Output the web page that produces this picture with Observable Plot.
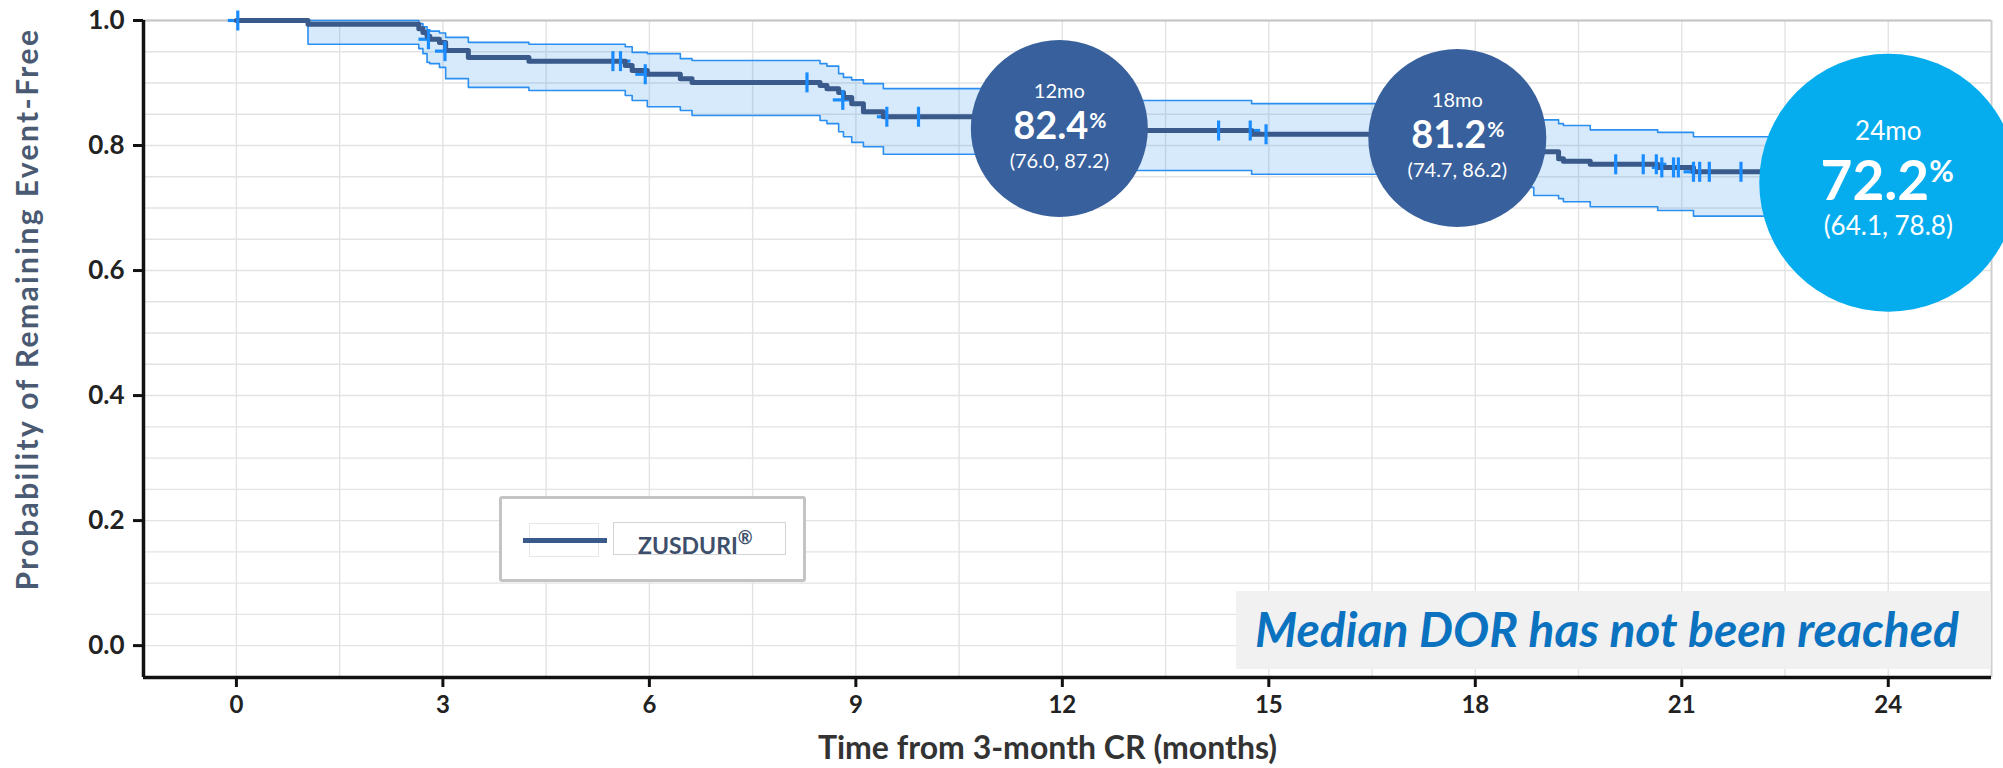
<!DOCTYPE html>
<html>
<head>
<meta charset="utf-8">
<script src="https://cdn.jsdelivr.net/npm/d3@7"></script>
<script src="https://cdn.jsdelivr.net/npm/@observablehq/plot@0.6"></script>
<style>
  html, body { margin: 0; padding: 0; background: #fff; }
  #chart { position: relative; width: 2003px; height: 768px; overflow: hidden; font-family: Lato, sans-serif; }
  #chart svg { position: absolute; left: 0; top: 0; }
  .legend-box { position: absolute; left: 499px; top: 496px; width: 307px; height: 86px; box-sizing: border-box;
    border: 3px solid #c4c4c4; border-radius: 3px; background: #fff; }
  .legend-swatch-frame { position: absolute; left: 529px; top: 523px; width: 70px; height: 34px; box-sizing: border-box;
    border: 1px solid #e6e6e6; }
  .legend-swatch { position: absolute; left: 523px; top: 538px; width: 84px; height: 5px; background: #3a5a8c; }
  .legend-label { position: absolute; left: 613px; top: 522px; width: 173px; height: 33px; box-sizing: border-box;
    border: 1px solid #d4d4d4; color: #3d4f6b; font: bold 23px Lato, sans-serif; line-height: 31px; padding-left: 24px; }
  .legend-label sup { font-size: 18px; position: relative; top: -1px; }
  .note { position: absolute; left: 1236px; top: 591px; width: 755px; height: 78px; background: #f1f1f1; }
  .note span { position: absolute; left: 19px; top: 10px; color: #0b72c0; font: italic 700 48px Lato, sans-serif;
    line-height: 56px; white-space: nowrap; }
</style>
</head>
<body>
<div id="chart"></div>
<script>
// Kaplan–Meier estimate of remaining event-free, with 95% confidence band
const kmTime  = [0, 1.04, 2.65, 2.71, 2.77, 2.81, 2.95, 3.04, 3.37, 4.25, 5.65, 5.75, 5.97, 6.45, 6.62, 8.48, 8.58, 8.75, 8.82, 8.94, 9.11, 9.40, 10.90, 11.60, 14.75, 17.30, 18.45, 18.85, 19.21, 19.28, 19.67, 20.65, 21.17, 22.70, 23.40, 24.00];
const kmSurv  = [1.000, 0.994, 0.987, 0.981, 0.975, 0.970, 0.965, 0.952, 0.941, 0.935, 0.928, 0.920, 0.914, 0.907, 0.901, 0.896, 0.891, 0.885, 0.877, 0.867, 0.854, 0.846, 0.835, 0.824, 0.818, 0.812, 0.801, 0.790, 0.779, 0.775, 0.770, 0.765, 0.758, 0.741, 0.722, 0.722];
const kmLower = [1.000, 0.962, 0.955, 0.947, 0.933, 0.931, 0.925, 0.907, 0.893, 0.888, 0.880, 0.872, 0.862, 0.856, 0.848, 0.840, 0.835, 0.822, 0.814, 0.805, 0.798, 0.786, 0.773, 0.760, 0.754, 0.747, 0.733, 0.720, 0.715, 0.710, 0.702, 0.696, 0.687, 0.665, 0.641, 0.641];
const kmUpper = [1.000, 1.000, 0.995, 0.990, 0.985, 0.983, 0.980, 0.973, 0.965, 0.962, 0.958, 0.949, 0.947, 0.939, 0.936, 0.931, 0.927, 0.915, 0.909, 0.905, 0.899, 0.891, 0.881, 0.872, 0.867, 0.862, 0.851, 0.841, 0.835, 0.832, 0.825, 0.821, 0.814, 0.802, 0.788, 0.788];

// censored observations
const censorTime = [0.02, 2.79, 3.03, 5.47, 5.58, 5.94, 8.29, 8.81, 9.45, 9.91, 14.27, 14.73, 14.96, 20.04, 20.44, 20.63, 20.71, 20.88, 20.95, 21.17, 21.26, 21.40, 21.86];
const censorSurv = [1.000, 0.970, 0.951, 0.935, 0.935, 0.914, 0.901, 0.873, 0.846, 0.846, 0.824, 0.824, 0.818, 0.770, 0.770, 0.770, 0.765, 0.765, 0.765, 0.758, 0.758, 0.758, 0.758];

// landmark estimates (%)
const landmarkMonths = [12, 18, 24];
const landmarkRates  = [82.4, 81.2, 72.2];
const landmarkLow    = [76.0, 74.7, 64.1];
const landmarkHigh   = [87.2, 86.2, 78.8];

const xTicks = [0, 3, 6, 9, 12, 15, 18, 21, 24];
const yTicks = [0, 0.2, 0.4, 0.6, 0.8, 1.0];
const xTitle = "Time from 3-month CR (months)";
const yTitle = "Probability of Remaining Event-Free";

const xDomain = [-1.35, 25.5];
const yDomain = [-0.051, 1.0];

const km = kmTime.map((t, i) => ({t, s: kmSurv[i], lo: kmLower[i], hi: kmUpper[i]}));
const censored = censorTime.map((t, i) => ({t, s: censorSurv[i]}));
const landmarks = landmarkMonths.map((m, i) => ({
  month: m,
  p: landmarkRates[i] / 100,
  label: `${m}mo`,
  value: landmarkRates[i].toFixed(1),
  ci: `(${landmarkLow[i].toFixed(1)}, ${landmarkHigh[i].toFixed(1)})`
}));

// censor tick glyphs (vertical and horizontal strokes drawn separately)
const vStroke = {draw(ctx, size) { const r = Math.sqrt(size / Math.PI); ctx.moveTo(0, -r); ctx.lineTo(0, r); }};
const hStroke = {draw(ctx, size) { const r = Math.sqrt(size / Math.PI); ctx.moveTo(-r, 0); ctx.lineTo(r, 0); }};

// bubble appearance: radius, colour, nudge and text sizes
const bubbleLook = [
  {r: 88.5, fill: "#38609c", dx: -3,  dy: -2,    head: 20, num: 38, pct: 21, ci: 20, headY: -31,   numY: 10, pctY: -1, ciY: 39,   numR: 29, pctL: 30},
  {r: 89,   fill: "#38609c", dx: -18, dy: 0,     head: 20, num: 38, pct: 21, ci: 20, headY: -31,   numY: 10, pctY: -1, ciY: 38.5, numR: 29, pctL: 30},
  {r: 129,  fill: "#05adef", dx: 0,   dy: -11.5, head: 26, num: 55, pct: 30, ci: 26, headY: -42.5, numY: 17, pctY: -1, ciY: 52.5, numR: 41, pctL: 41}
];

const bubbleMarks = landmarks.flatMap((d, i) => {
  const b = bubbleLook[i];
  const base = {x: "month", y: "p", fill: "white", lineAnchor: "bottom"};
  return [
    Plot.dot([d], {x: "month", y: "p", r: b.r, fill: b.fill, dx: b.dx, dy: b.dy}),
    Plot.text([d], {...base, text: "label", fontSize: b.head, dx: b.dx, dy: b.dy + b.headY}),
    Plot.text([d], {...base, text: "value", fontSize: b.num, fontWeight: "bold", textAnchor: "end", dx: b.dx + b.numR, dy: b.dy + b.numY}),
    Plot.text([d], {...base, text: () => "%", fontSize: b.pct, fontWeight: "bold", textAnchor: "start", dx: b.dx + b.pctL, dy: b.dy + b.pctY}),
    Plot.text([d], {...base, text: "ci", fontSize: b.ci, dx: b.dx, dy: b.dy + b.ciY})
  ];
});

const chart = Plot.plot({
  width: 2003,
  height: 768,
  marginLeft: 143,
  marginRight: 12,
  marginTop: 20,
  marginBottom: 91,
  style: {fontFamily: "Lato, sans-serif", background: "transparent"},
  x: {domain: xDomain},
  y: {domain: yDomain},
  marks: [
    // grid
    Plot.ruleY(d3.range(0, 1.0001, 0.05), {stroke: "#e3e3e3", strokeWidth: 1.4}),
    Plot.ruleX(d3.range(0, 24.001, 1.5), {stroke: "#e3e3e3", strokeWidth: 1.4}),
    Plot.ruleY([yDomain[1]], {stroke: "#c4c4c4", strokeWidth: 2}),
    Plot.ruleX([xDomain[1]], {stroke: "#cfcfcf", strokeWidth: 2}),
    // confidence band
    Plot.areaY(km, {x: "t", y1: "lo", y2: "hi", curve: "step-after", fill: "#1e88f0", fillOpacity: 0.18}),
    Plot.line(km, {x: "t", y: "hi", curve: "step-after", stroke: "#2b8ff2", strokeWidth: 1.6}),
    Plot.line(km, {x: "t", y: "lo", curve: "step-after", stroke: "#2b8ff2", strokeWidth: 1.6}),
    // censor marks, horizontal strokes under the curve
    Plot.dot(censored, {x: "t", y: "s", symbol: hStroke, r: 10, fill: "none", stroke: "#1a8cff", strokeWidth: 3.2}),
    // survival curve
    Plot.line(km, {x: "t", y: "s", curve: "step-after", stroke: "#3a5a8c", strokeWidth: 5}),
    Plot.dot(censored, {x: "t", y: "s", symbol: vStroke, r: 10, fill: "none", stroke: "#1a8cff", strokeWidth: 3.2}),
    // axes
    Plot.ruleX([xDomain[0]], {stroke: "#111", strokeWidth: 3.5}),
    Plot.ruleY([yDomain[0]], {stroke: "#111", strokeWidth: 3.5}),
    Plot.axisX({ticks: xTicks, tickSize: 10, tickPadding: 8, stroke: "#111", strokeWidth: 3,
      fill: "#222", fontSize: 24, fontWeight: "bold", label: null}),
    Plot.axisY({ticks: yTicks, tickSize: 10, tickPadding: 9, stroke: "#111", strokeWidth: 3,
      fill: "#222", fontSize: 26, fontWeight: "bold", tickFormat: d3.format(".1f"), label: null}),
    Plot.text([xTitle], {text: d => d, frameAnchor: "bottom", textAnchor: "middle", lineAnchor: "bottom", dx: -20, dy: 81,
      fontSize: 32, fontWeight: "bold", fill: "#333"}),
    Plot.text([yTitle], {text: d => d, frameAnchor: "left", textAnchor: "middle", rotate: -90, lineAnchor: "bottom", dx: -106, dy: -40,
      fontSize: 30, fontWeight: "bold", fill: "#4a5a72"}),
    // landmark bubbles
    ...bubbleMarks
  ]
});

// the vertical axis title is set with wider tracking
d3.select(chart).selectAll("text").filter(function() { return this.textContent === yTitle; })
  .attr("letter-spacing", "2.4px");

const root = document.getElementById("chart");
root.appendChild(chart);
root.insertAdjacentHTML("beforeend", `
  <div class="legend-box"></div>
  <div class="legend-swatch-frame"></div>
  <div class="legend-swatch"></div>
  <div class="legend-label">ZUSDURI<sup>®</sup></div>
  <div class="note"><span>Median DOR has not been reached</span></div>
`);
</script>
</body>
</html>
